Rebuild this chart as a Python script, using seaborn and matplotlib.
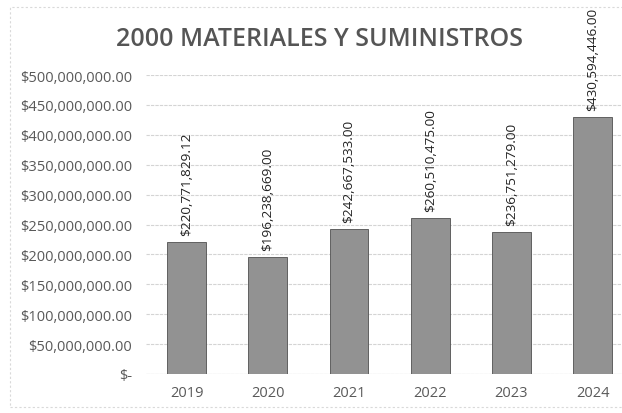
import matplotlib
matplotlib.use("Agg")
import matplotlib.pyplot as plt
import seaborn as sns
import pandas as pd
from matplotlib.patches import Rectangle

years = ["2019", "2020", "2021", "2022", "2023", "2024"]
values = [220771829.12, 196238669.00, 242667533.00, 260510475.00, 236751279.00, 430594446.00]
value_labels = ["$220,771,829.12", "$196,238,669.00", "$242,667,533.00",
                "$260,510,475.00", "$236,751,279.00", "$430,594,446.00"]
y_ticks = [0, 50e6, 100e6, 150e6, 200e6, 250e6, 300e6, 350e6, 400e6, 450e6, 500e6]
y_tick_labels = ["$-"] + ["${:,.2f}".format(v) for v in y_ticks[1:]]
title = "2000 MATERIALES Y SUMINISTROS"

sns.set_theme(style="white")
plt.rcParams["font.family"] = ["Open Sans", "DejaVu Sans"]

df = pd.DataFrame({"year": years, "value": values})

fig = plt.figure(figsize=(6.22, 4.14), dpi=100)
ax = fig.add_axes([146 / 622, 39 / 414, 476 / 622, 299 / 414])
sns.barplot(data=df, x="year", y="value", color="#929292", width=0.48,
            edgecolor="#505050", linewidth=0.6, saturation=1, ax=ax, zorder=3)

ax.set_ylim(0, 500e6)
ax.set_xlim(-0.5, -0.5 + 476 / 81.2)
ax.set_yticks(y_ticks)
ax.set_yticklabels(y_tick_labels, fontsize=10.5, color="#595959")
ax.tick_params(axis="x", labelsize=10.5, colors="#595959", length=0, pad=8)
ax.tick_params(axis="y", length=0, pad=10)
ax.set_xlabel("")
ax.set_ylabel("")
ax.yaxis.grid(True, color="#d4d4d4", linewidth=0.8, linestyle=(0, (3, 1)), zorder=0)
for s in ax.spines.values():
    s.set_visible(False)
ax.axhline(0, color="#c8c8c8", linewidth=0.8, zorder=2)

for i, (v, lab) in enumerate(zip(values, value_labels)):
    ax.annotate(lab, xy=(i, v), xytext=(0, 5), textcoords="offset points",
                rotation=90, ha="center", va="bottom", fontsize=9.7,
                color="#222222", annotation_clip=False, zorder=5)

fig.text(320 / 622, 1 - 40 / 414, title, ha="center", va="center",
         fontsize=18, fontweight="semibold", color="#555555")

fig.patches.append(Rectangle((10 / 622, 6 / 414), 1.0, 400 / 414,
                             transform=fig.transFigure, fill=False,
                             edgecolor="#d9d9d9", linewidth=0.8,
                             linestyle=(0, (2, 2))))

fig.savefig("out.png", dpi=100, facecolor="white")
